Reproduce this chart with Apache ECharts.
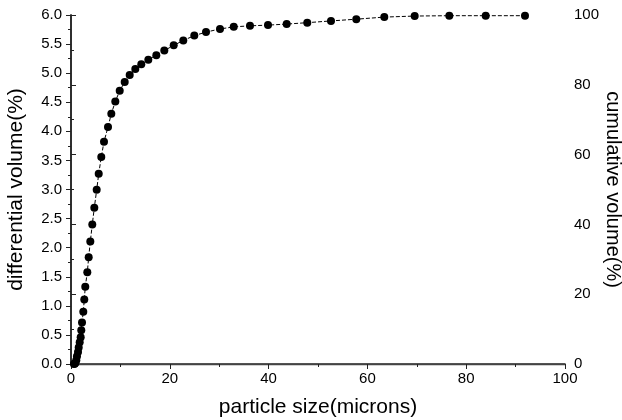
<!DOCTYPE html>
<html>
<head>
<meta charset="utf-8">
<script src="https://cdn.jsdelivr.net/npm/echarts@6/dist/echarts.min.js"></script>
<style>
  html, body { margin: 0; padding: 0; background: #fff; }
  #chart { width: 622px; height: 420px; }
</style>
</head>
<body>
<div id="chart"></div>
<script>
// particle size (microns) and cumulative volume (%)
var sizes = [0.6, 0.75, 0.87, 1.07, 1.21, 1.42, 1.56, 1.76, 1.96, 2.08, 2.23, 2.49, 2.69, 2.89,
  3.30, 3.58, 3.91, 4.31, 4.72, 5.20, 5.61, 6.13, 6.68, 7.49, 8.16, 8.97, 9.86, 10.87,
  11.88, 13.02, 14.23, 15.65, 17.27, 18.89, 20.79, 22.73, 24.96, 27.33, 30.16, 32.94,
  36.23, 39.88, 43.66, 47.83, 52.63, 57.75, 63.42, 69.57, 76.58, 83.95, 91.90];
var cumulative = [0.0, 0.1, 0.3, 1.06, 2.2, 3.44, 4.7, 6.2, 7.7, 9.7, 11.9, 15.0, 18.5, 22.1,
  26.3, 30.6, 35.1, 40.0, 44.8, 49.9, 54.5, 59.3, 63.7, 67.9, 71.7, 75.2, 78.3, 80.8,
  82.8, 84.5, 85.9, 87.2, 88.5, 89.8, 91.3, 92.7, 94.1, 95.1, 96.0, 96.6,
  96.9, 97.1, 97.4, 97.8, 98.3, 98.8, 99.4, 99.7, 99.8, 99.8, 99.8];

var points = sizes.map(function (s, i) { return [s, cumulative[i]]; });

var font = "'Liberation Sans', Arial, sans-serif";
var ink = '#000';
var axisInk = '#222';

var chart = echarts.init(document.getElementById('chart'), null, { renderer: 'canvas' });

var option = {
  animation: false,
  backgroundColor: '#fff',
  grid: { left: 71, right: 57, top: 15, bottom: 56, containLabel: false, outerBoundsMode: 'none' },
  xAxis: [
    {
      type: 'value', min: 0, max: 100, interval: 20,
      position: 'bottom',
      name: 'particle size(microns)', nameLocation: 'middle', nameGap: 33,
      nameTextStyle: { fontFamily: font, fontSize: 21, color: ink },
      axisLine: { show: true, lineStyle: { color: axisInk, width: 1.5 } },
      axisTick: { show: true, length: 5, lineStyle: { color: axisInk } },
      minorTick: { show: true, splitNumber: 2, length: 3, lineStyle: { color: axisInk } },
      axisLabel: { fontFamily: font, fontSize: 15, color: ink, margin: 7 },
      splitLine: { show: false }
    },
    {
      type: 'value', min: 0, max: 100, interval: 20,
      position: 'top',
      axisLine: { show: true, lineStyle: { color: '#444', width: 1.3 } },
      axisTick: { show: true, inside: true, length: 5, lineStyle: { color: axisInk } },
      minorTick: { show: true, splitNumber: 2, length: 3, lineStyle: { color: axisInk } },
      axisLabel: { show: false },
      splitLine: { show: false }
    }
  ],
  yAxis: [
    {
      type: 'value', min: 0, max: 6, interval: 0.5,
      position: 'left',
      name: 'differential volume(%)', nameLocation: 'middle', nameGap: 44, nameMoveOverlap: false,
      nameTextStyle: { fontFamily: font, fontSize: 21, color: ink },
      axisLine: { show: true, lineStyle: { color: axisInk, width: 1.5 } },
      axisTick: { show: true, length: 5, lineStyle: { color: axisInk } },
      minorTick: { show: true, splitNumber: 2, length: 3, lineStyle: { color: axisInk } },
      axisLabel: {
        fontFamily: font, fontSize: 15, color: ink, margin: 9,
        formatter: function (v) { return v.toFixed(1); }
      },
      splitLine: { show: false }
    },
    {
      type: 'value', min: 0, max: 100, interval: 20,
      position: 'right',
      name: 'cumulative volume(%)', nameLocation: 'middle', nameGap: 38, nameRotate: -90,
      nameMoveOverlap: false,
      nameTextStyle: { fontFamily: font, fontSize: 20, color: ink },
      axisLine: { show: true, lineStyle: { color: axisInk, width: 1.5 } },
      axisTick: { show: true, length: 5, lineStyle: { color: axisInk } },
      minorTick: { show: true, splitNumber: 2, length: 3, lineStyle: { color: axisInk } },
      axisLabel: { fontFamily: font, fontSize: 15, color: ink, margin: 9 },
      splitLine: { show: false }
    }
  ],
  series: [
    {
      type: 'line',
      xAxisIndex: 0,
      yAxisIndex: 1,
      data: points,
      symbol: 'circle',
      symbolSize: 8,
      showAllSymbol: true,
      itemStyle: { color: ink },
      lineStyle: { color: ink, width: 1, type: [4, 2] }
    }
  ]
};

chart.setOption(option);
</script>
</body>
</html>
